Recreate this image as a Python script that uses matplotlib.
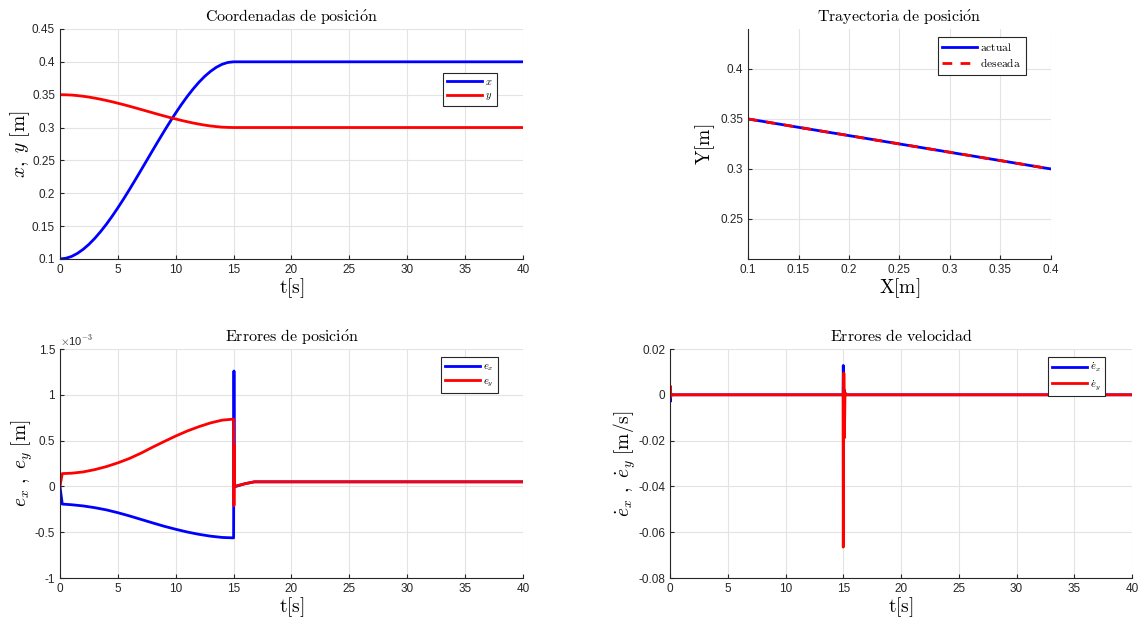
import matplotlib

matplotlib.use("Agg")
import matplotlib.pyplot as plt
from matplotlib.ticker import FuncFormatter

plt.rcParams.update({
    "font.family": "Liberation Sans",
    "font.size": 8.5,
    "mathtext.fontset": "cm",
    "axes.linewidth": 0.8,
    "axes.edgecolor": "#262626",
    "xtick.color": "#262626",
    "ytick.color": "#262626",
    "xtick.direction": "in",
    "ytick.direction": "in",
    "xtick.major.size": 3,
    "ytick.major.size": 3,
    "legend.fancybox": False,
})

BLUE = "#0000ff"
RED = "#ff0000"
GRID = "#e3e3e3"

# --- position coordinates ---
t_pos = [0, 0.5, 1, 1.5, 2, 2.5, 3, 3.5, 4, 4.5, 5, 5.5, 6, 6.5, 7, 7.5, 8,
         8.5, 9, 9.5, 10, 10.5, 11, 11.5, 12, 12.5, 13, 13.5, 14, 14.5, 15, 40]
x_pos = [0.1, 0.1010, 0.1038, 0.1084, 0.1146, 0.1222, 0.1312, 0.1414, 0.1526,
         0.1648, 0.1778, 0.1914, 0.2056, 0.2202, 0.2350, 0.2500, 0.2650, 0.2798,
         0.2944, 0.3086, 0.3222, 0.3352, 0.3474, 0.3586, 0.3688, 0.3778, 0.3854,
         0.3916, 0.3962, 0.3990, 0.4, 0.4]
y_pos = [0.35, 0.3498, 0.3494, 0.3486, 0.3476, 0.3463, 0.3448, 0.3431, 0.3412,
         0.3392, 0.3370, 0.3348, 0.3324, 0.3300, 0.3275, 0.3250, 0.3225, 0.3200,
         0.3176, 0.3152, 0.3130, 0.3108, 0.3088, 0.3069, 0.3052, 0.3037, 0.3024,
         0.3014, 0.3006, 0.3002, 0.3, 0.3]

# desired trajectory end points
x_des = [0.1, 0.4]
y_des = [0.35, 0.3]

# --- position errors (x 1e-3 m) ---
t_ex = [0, 0.2, 1, 2, 3, 4, 5, 6, 7, 8, 9, 10, 11, 12, 13, 14, 15,
        15.03, 15.06, 15.2, 16, 16.8, 40]
e_x = [0, -0.193, -0.2, -0.213, -0.232, -0.256, -0.287, -0.322, -0.36, -0.398,
       -0.435, -0.468, -0.498, -0.523, -0.543, -0.557, -0.562,
       1.26, 0.0, 0.0, 0.03, 0.05, 0.05]
t_ey = [0, 0.2, 1, 2, 3, 4, 5, 6, 7, 8, 9, 10, 11, 12, 13, 14, 15,
        15.03, 15.06, 15.09, 15.2, 16, 16.8, 40]
e_y = [0, 0.14, 0.144, 0.158, 0.183, 0.216, 0.257, 0.305, 0.363, 0.428, 0.49,
       0.55, 0.605, 0.652, 0.693, 0.723, 0.735,
       -0.21, 0.45, 0.0, 0.005, 0.03, 0.05, 0.05]

# --- velocity errors (m/s) ---
t_vel = [0, 0.03, 0.06, 0.1, 14.98, 15.0, 15.05, 15.1, 15.15, 15.2, 40]
edot_x = [0, -0.0029, 0.0008, 0, 0, 0.0128, -0.004, 0.002, 0, 0, 0]
edot_y = [0, 0.0038, -0.001, 0, 0, -0.0665, 0.0095, -0.0188, 0.001, 0, 0]

fmt = FuncFormatter(lambda v, _: f"{v:g}")


def style(ax):
    ax.grid(True, color=GRID, linewidth=0.8)
    ax.set_axisbelow(True)
    for s in ("top", "right"):
        ax.spines[s].set_visible(False)
    ax.xaxis.set_major_formatter(fmt)
    ax.yaxis.set_major_formatter(fmt)


def legend(ax, anchor, size=7.5, hl=3.35):
    leg = ax.legend(loc="upper right", bbox_to_anchor=anchor, borderaxespad=0,
                    fontsize=size, handlelength=hl, handletextpad=0.3,
                    borderpad=0.4, labelspacing=0.3, framealpha=1,
                    edgecolor="#262626")
    leg.get_frame().set_linewidth(0.8)


fig = plt.figure(figsize=(11.42, 6.24), dpi=100)
ax1 = fig.add_axes([0.0525, 0.585, 0.4055, 0.3686])
ax2 = fig.add_axes([0.655, 0.585, 0.2653, 0.3686])
ax3 = fig.add_axes([0.0525, 0.0737, 0.4055, 0.367])
ax4 = fig.add_axes([0.5867, 0.0737, 0.4046, 0.367])

TSIZE = 11.5
LSIZE = 14

# top left
ax1.plot(t_pos, x_pos, color=BLUE, lw=2, label=r"$x$")
ax1.plot(t_pos, y_pos, color=RED, lw=2, label=r"$y$")
ax1.set_xlim(0, 40)
ax1.set_ylim(0.1, 0.45)
ax1.set_xticks(range(0, 41, 5))
ax1.set_yticks([0.1, 0.15, 0.2, 0.25, 0.3, 0.35, 0.4, 0.45])
ax1.set_title(r"$\mathrm{Coordenadas\ de\ posici\acute{o}n}$", fontsize=TSIZE, pad=6)
ax1.set_xlabel(r"$\mathrm{t[s]}$", fontsize=LSIZE, labelpad=0)
ax1.set_ylabel(r"$x,\ y\ [\mathrm{m}]$", fontsize=LSIZE, labelpad=0)
style(ax1)
legend(ax1, (0.944, 0.809))

# top right
ax2.plot(x_pos, y_pos, color=BLUE, lw=2, label=r"$\mathrm{actual}$")
ax2.plot(x_des, y_des, color=RED, lw=2, ls=(0, (3.5, 3)), label=r"$\mathrm{deseada}$")
ax2.set_xlim(0.1, 0.4)
ax2.set_ylim(0.21, 0.44)
ax2.set_xticks([0.1, 0.15, 0.2, 0.25, 0.3, 0.35, 0.4])
ax2.set_yticks([0.25, 0.3, 0.35, 0.4])
ax2.set_title(r"$\mathrm{Trayectoria\ de\ posici\acute{o}n}$", fontsize=TSIZE, pad=6)
ax2.set_xlabel(r"$\mathrm{X[m]}$", fontsize=LSIZE, labelpad=0)
ax2.set_ylabel(r"$\mathrm{Y[m]}$", fontsize=LSIZE, labelpad=2)
style(ax2)
legend(ax2, (0.917, 0.965), size=8.3, hl=3.0)

# bottom left
ax3.plot(t_ex, e_x, color=BLUE, lw=2, label=r"$e_x$")
ax3.plot(t_ey, e_y, color=RED, lw=2, label=r"$e_y$")
ax3.set_xlim(0, 40)
ax3.set_ylim(-1, 1.5)
ax3.set_xticks(range(0, 41, 5))
ax3.set_yticks([-1, -0.5, 0, 0.5, 1, 1.5])
ax3.set_title(r"$\mathrm{Errores\ de\ posici\acute{o}n}$", fontsize=TSIZE, pad=6)
ax3.set_xlabel(r"$\mathrm{t[s]}$", fontsize=LSIZE, labelpad=0)
ax3.set_ylabel(r"$e_x\ ,\ e_y\ [\mathrm{m}]$", fontsize=LSIZE, labelpad=0)
ax3.text(0.0, 1.005, r"$\times$10$^{-3}$", transform=ax3.transAxes,
         fontsize=8, color="#262626", ha="left", va="bottom")
style(ax3)
legend(ax3, (0.946, 0.965))

# bottom right
ax4.plot(t_vel, edot_x, color=BLUE, lw=2, label=r"$\dot{e}_x$")
ax4.plot(t_vel, edot_y, color=RED, lw=2, label=r"$\dot{e}_y$")
ax4.set_xlim(0, 40)
ax4.set_ylim(-0.08, 0.02)
ax4.set_xticks(range(0, 41, 5))
ax4.set_yticks([-0.08, -0.06, -0.04, -0.02, 0, 0.02])
ax4.set_title(r"$\mathrm{Errores\ de\ velocidad}$", fontsize=TSIZE, pad=6)
ax4.set_xlabel(r"$\mathrm{t[s]}$", fontsize=LSIZE, labelpad=0)
ax4.set_ylabel(r"$\dot{e}_x\ ,\ \dot{e}_y\ [\mathrm{m/s}]$", fontsize=LSIZE, labelpad=0)
style(ax4)
legend(ax4, (0.942, 0.965))

fig.savefig("out.png", dpi=100)
